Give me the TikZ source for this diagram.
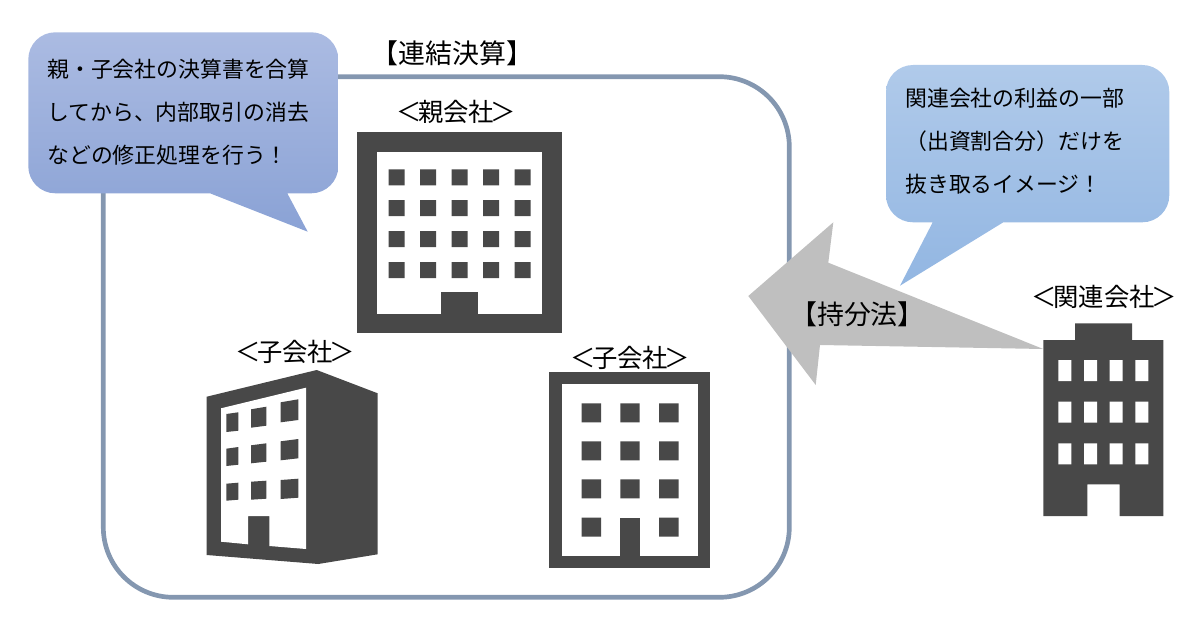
\documentclass[tikz,border=0pt]{standalone}
\usepackage{fontspec}
\setmainfont{Noto Sans CJK JP}
\usepackage{xcolor}
\definecolor{framecolor}{HTML}{8497B0}
\definecolor{bldgcolor}{HTML}{484848}
\definecolor{arrowcolor}{HTML}{BFBFBF}
\newcommand{\corp}[1]{＜\kern-2.5pt#1\kern-2.5pt＞}
\tikzset{
  bldg/.style={fill=bldgcolor},
  bldgface/.style={fill=white},
  title/.style={inner sep=0.75pt,font=\fontsize{20.2}{22}\selectfont},
  company/.style={inner sep=0.75pt,font=\fontsize{19}{21}\selectfont},
  balloontext/.style={anchor=west,inner sep=0pt,align=left,font=\fontsize{16.4}{32.25}\selectfont},
}
\begin{document}
\begin{tikzpicture}[x=0.75pt,y=0.75pt,yscale=-1,xscale=1]
    \useasboundingbox (0,0) rectangle (1200,635);

    %Rounded Rect: group frame
    \draw [color=framecolor,line width=3.5pt] (173.3,76.7) -- (719.3,76.7) .. controls (758,76.7) and (789.3,108) .. (789.3,146.7) -- (789.3,527.3) .. controls (789.3,566) and (758,597.3) .. (719.3,597.3) -- (173.3,597.3) .. controls (134.6,597.3) and (103.3,566) .. (103.3,527.3) -- (103.3,146.7) .. controls (103.3,108) and (134.6,76.7) .. (173.3,76.7) -- cycle ;

    %Shape: parent building
    \fill [bldg] (357.3,132.3) rectangle (561.7,333.3) ;
    \fill [bldgface] (377.3,152.3) rectangle (542,314) ;
    \fill [bldg] (441.3,291.7) rectangle (478,314) ;
    \fill [bldg] (388.7,169.3) rectangle +(16,16) (420.2,169.3) rectangle +(16,16) (451.7,169.3) rectangle +(16,16) (483.2,169.3) rectangle +(16,16) (514.7,169.3) rectangle +(16,16) ;
    \fill [bldg] (388.7,200.2) rectangle +(16,16) (420.2,200.2) rectangle +(16,16) (451.7,200.2) rectangle +(16,16) (483.2,200.2) rectangle +(16,16) (514.7,200.2) rectangle +(16,16) ;
    \fill [bldg] (388.7,231) rectangle +(16,16) (420.2,231) rectangle +(16,16) (451.7,231) rectangle +(16,16) (483.2,231) rectangle +(16,16) (514.7,231) rectangle +(16,16) ;
    \fill [bldg] (388.7,262) rectangle +(16,16) (420.2,262) rectangle +(16,16) (451.7,262) rectangle +(16,16) (483.2,262) rectangle +(16,16) (514.7,262) rectangle +(16,16) ;

    %Shape: left subsidiary building
    \fill [bldg] (206.7,396.7) -- (316.7,370) -- (377.7,393.3) -- (377.7,554.3) -- (318.3,564) -- (206.7,555) -- cycle ;
    \fill [bldgface] (221,408.3) -- (306,387.7) -- (306,549) -- (269.3,546) -- (269.3,516) -- (248,516) -- (248,544.3) -- (221,541.7) -- cycle ;
    \fill [bldg] (226.3,414) -- (238.3,412.3) -- (238.3,430.7) -- (226.3,432) -- cycle (251,409.3) -- (266.3,406.7) -- (266.3,425.7) -- (251,427.7) -- cycle (280.7,402.3) -- (298.3,399.3) -- (298.3,420) -- (280.7,422.3) -- cycle ;
    \fill [bldg] (226.3,448.7) -- (238.3,447) -- (238.3,464.7) -- (226.3,466) -- cycle (251,445.3) -- (266.3,443.3) -- (266.3,461.7) -- (251,463.3) -- cycle (280.7,441.3) -- (298.3,439) -- (298.3,458.3) -- (280.7,460.3) -- cycle ;
    \fill [bldg] (226.3,483.7) -- (238.3,482.7) -- (238.3,499.7) -- (226.3,500.7) -- cycle (251,481.7) -- (266.3,480.7) -- (266.3,498.7) -- (251,499.7) -- cycle (280.7,480) -- (298.3,478.7) -- (298.3,497.7) -- (280.7,499) -- cycle ;

    %Shape: right subsidiary building
    \fill [bldg] (549.3,371.7) rectangle (710.3,568) ;
    \fill [bldgface] (562.3,384.3) rectangle (697.7,555.7) ;
    \fill [bldg] (620.3,517.7) rectangle (639.7,555.7) ;
    \fill [bldg] (581.7,403.3) rectangle +(19.3,19) (620.3,403.3) rectangle +(19.3,19) (659.2,403.3) rectangle +(19.3,19) ;
    \fill [bldg] (581.7,441.3) rectangle +(19.3,19) (620.3,441.3) rectangle +(19.3,19) (659.2,441.3) rectangle +(19.3,19) ;
    \fill [bldg] (581.7,479.3) rectangle +(19.3,19) (620.3,479.3) rectangle +(19.3,19) (659.2,479.3) rectangle +(19.3,19) ;
    \fill [bldg] (581.7,517.7) rectangle +(19.3,19) (659.2,517.7) rectangle +(19.3,19) ;

    %Shape: affiliate building
    \fill [bldg] (1043.3,340) -- (1075,340) -- (1075,323.3) -- (1132,323.3) -- (1132,340) -- (1163.3,340) -- (1163.3,516) -- (1119.7,516) -- (1119.7,484.3) -- (1087.3,484.3) -- (1087.3,516) -- (1043.3,516) -- cycle ;
    \fill [bldgface] (1058.3,360) rectangle +(13,21) (1084,360) rectangle +(13,21) (1109.7,360) rectangle +(13,21) (1135.4,360) rectangle +(13,21) ;
    \fill [bldgface] (1058.3,401.7) rectangle +(13,21) (1084,401.7) rectangle +(13,21) (1109.7,401.7) rectangle +(13,21) (1135.4,401.7) rectangle +(13,21) ;
    \fill [bldgface] (1058.3,443.4) rectangle +(13,21) (1084,443.4) rectangle +(13,21) (1109.7,443.4) rectangle +(13,21) (1135.4,443.4) rectangle +(13,21) ;

    %Shape: equity method arrow
    \fill [arrowcolor] (748.3,296) -- (833.3,222.3) -- (828.3,262.7) -- (1043.3,349) -- (820,345) -- (815.7,385) -- cycle ;

    %Shape: left balloon
    \shade [top color={rgb,255:red,171;green,187;blue,226},bottom color={rgb,255:red,138;green,162;blue,213}] (55.3,32.3) -- (311.3,32.3) .. controls (326.2,32.3) and (338.3,44.4) .. (338.3,59.3) -- (338.3,166.3) .. controls (338.3,181.2) and (326.2,193.3) .. (311.3,193.3) -- (287.3,193.3) -- (307.7,231.7) -- (210,193.3) -- (55.3,193.3) .. controls (40.4,193.3) and (28.3,181.2) .. (28.3,166.3) -- (28.3,59.3) .. controls (28.3,44.4) and (40.4,32.3) .. (55.3,32.3) -- cycle ;

    %Shape: right balloon
    \shade [top color={rgb,255:red,176;green,202;blue,234},bottom color={rgb,255:red,146;green,182;blue,226}] (913,65) -- (1142.3,65) .. controls (1157.2,65) and (1169.3,77.1) .. (1169.3,92) -- (1169.3,195.3) .. controls (1169.3,210.2) and (1157.2,222.3) .. (1142.3,222.3) -- (1003.3,222.3) -- (900,285.7) -- (932.7,222.3) -- (913,222.3) .. controls (898.1,222.3) and (886,210.2) .. (886,195.3) -- (886,92) .. controls (886,77.1) and (898.1,65) .. (913,65) -- cycle ;

    % Text Node
    \node [title] (grouptitle) at (452.5,53) {【連結決算】};
    % Text Node
    \node [company] (parentlabel) at (456,112) {\corp{親会社}};
    % Text Node
    \node [company] (subleftlabel) at (295,352) {\corp{子会社}};
    % Text Node
    \node [company] (subrightlabel) at (630,358) {\corp{子会社}};
    % Text Node
    \node [company] (affiliatelabel) at (1104,297) {\corp{関連会社}};
    % Text Node
    \node [title] (equitylabel) at (857.5,314) {【持分法】};
    % Text Node
    \node [balloontext] (lefttext) at (47,112) {親・子会社の決算書を合算\\してから、内部取引の消去\\などの修正処理を行う！};
    % Text Node
    \node [balloontext] (righttext) at (905,141) {関連会社の利益の一部\\（出資割合分）だけを\\抜き取るイメージ！};

\end{tikzpicture}
\end{document}
